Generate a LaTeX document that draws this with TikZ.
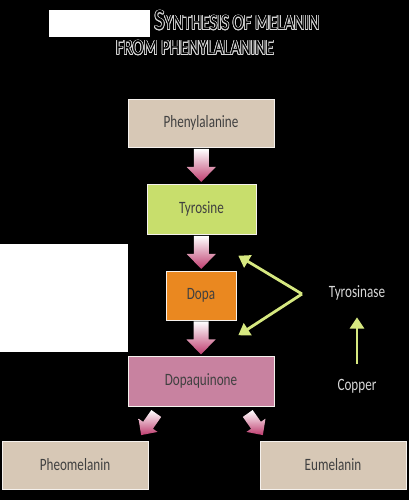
\documentclass[tikz,border=0pt]{standalone}
\usepackage{fontspec}
\setmainfont[FakeStretch=0.76]{Carlito}
\usepackage{contour}
\contourlength{0.5pt}
\usetikzlibrary{calc,arrows.meta}

\definecolor{beige}{RGB}{215,200,182}
\definecolor{tyrgreen}{RGB}{200,222,108}
\definecolor{dopaorange}{RGB}{234,136,32}
\definecolor{dqpink}{RGB}{200,130,160}
\definecolor{arrowpink}{RGB}{190,60,110}
\definecolor{enzgreen}{RGB}{214,232,128}
\definecolor{boxtext}{RGB}{64,64,64}
\definecolor{lighttext}{RGB}{215,215,215}

\tikzset{
  box/.style={rectangle, draw=white!75!beige, line width=0.4pt, text=boxtext,
    font=\fontsize{12.3}{14}\selectfont, inner sep=0pt},
  enzarrow/.style={draw=enzgreen, line width=2pt, -{Triangle[length=8pt,width=10pt]}},
  blockarr/.pic={
    \shade[top color=white, bottom color=arrowpink]
      (-7.5,16.5) -- (7.5,16.5) -- (7.5,-1.5) -- (14.5,-1.5) -- (0,-16.5)
      -- (-14.5,-1.5) -- (-7.5,-1.5) -- cycle;
  }
}

\begin{document}
\begin{tikzpicture}[x=0.025cm, y=0.025cm]
    \fill[black] (0,0) rectangle (409,500);
    \useasboundingbox (0,0) rectangle (409,500);
    % white patches
    \fill[white] (49,463) rectangle (150,490);
    \fill[white] (0,148) rectangle (128,256);

    % title
    \node[text=black, font=\fontsize{15.5}{17}\selectfont, anchor=base] (title1) at (237,470)
        {\contour{lighttext}{{\fontsize{21}{22}\selectfont S}YNTHESIS OF MELANIN}};
    \node[text=black, font=\fontsize{15.5}{17}\selectfont, anchor=base] (title2) at (195,445)
        {\contour{lighttext}{FROM PHENYLALANINE}};

    % pathway
    \node[box, fill=beige, minimum width=3.65cm, minimum height=1.2cm] (phe) at (201,377) {Phenylalanine};
    \node[box, fill=tyrgreen, minimum width=2.725cm, minimum height=1.25cm] (tyr) at (201.5,291) {Tyrosine};
    \node[box, fill=dopaorange, minimum width=1.75cm, minimum height=1.225cm] (dopa) at (201,204.5) {Dopa};
    \node[box, fill=dqpink, minimum width=3.65cm, minimum height=1.25cm] (dq) at (201,119) {Dopaquinone};
    \node[box, fill=beige, minimum width=3.65cm, minimum height=1.2cm] (pheo) at (75,35) {Pheomelanin};
    \node[box, fill=beige, minimum width=3.65cm, minimum height=1.2cm] (eu) at (333,35) {Eumelanin};

    \pic at ($(phe.south)!0.5!(tyr.north)$) {blockarr};
    \pic at ($(tyr.south)!0.5!(dopa.north)$) {blockarr};
    \pic at ($(dopa.south)!0.5!(dq.north)$) {blockarr};
    \pic[rotate=-35, scale=0.8] at ($(dq.south west)+(21,-18)$) {blockarr};
    \pic[rotate=35, scale=0.8] at ($(dq.south east)+(-19,-18)$) {blockarr};

    % enzyme and cofactor
    \node[text=lighttext, font=\fontsize{12.3}{14}\selectfont] (tyrase) at (357,207) {Tyrosinase};
    \node[text=lighttext, font=\fontsize{12.3}{14}\selectfont] (copper) at (357,114) {Copper};
    \coordinate (fork) at (302,206);
    \coordinate (dopaup) at ($(dopa.north east)+(2,15)$);
    \coordinate (dopadown) at ($(dopa.south east)+(2,-15)$);
    \draw[enzarrow] (fork) -- (dopaup);
    \draw[enzarrow] (fork) -- (dopadown);
    \draw[enzarrow, shorten <=0.25cm, shorten >=0.3cm] (copper) -- (tyrase);
\end{tikzpicture}
\end{document}
